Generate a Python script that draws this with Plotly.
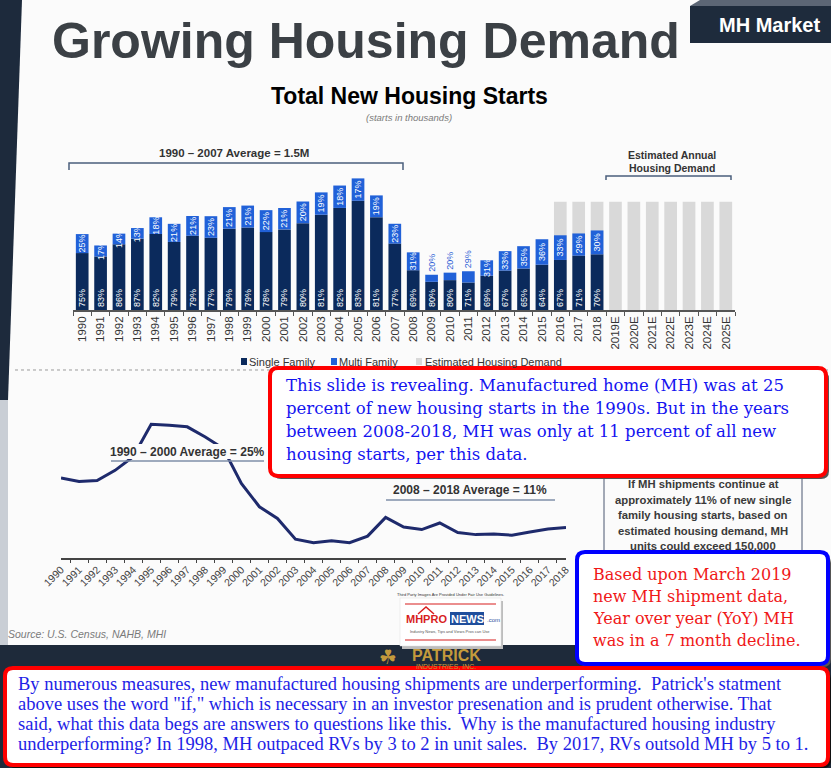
import plotly.graph_objects as go

W, H = 831, 768

# ---------------- data ----------------
years = [str(y) for y in range(1990, 2019)]
est_years = ["2019E", "2020E", "2021E", "2022E", "2023E", "2024E", "2025E"]
categories = years + est_years

total_starts = [1193, 1014, 1200, 1288, 1457, 1354, 1477, 1474, 1617, 1641, 1569, 1603,
                1705, 1848, 1956, 2068, 1801, 1355, 906, 554, 587, 609, 781, 925, 1003,
                1112, 1174, 1203, 1250]
sf_pct = [75, 83, 86, 87, 82, 79, 79, 77, 79, 79, 78, 79, 80, 81, 82, 83, 81, 77, 69, 80,
          80, 71, 69, 67, 65, 64, 67, 71, 70]
mf_pct = [25, 17, 14, 13, 18, 21, 21, 23, 21, 21, 22, 21, 20, 19, 18, 17, 19, 23, 31, 20,
          20, 29, 31, 33, 35, 36, 33, 29, 30]
demand_years = ["2016", "2017", "2018", "2019E", "2020E", "2021E", "2022E", "2023E", "2024E", "2025E"]
demand_values = [1700, 1700, 1700, 1700, 1700, 1700, 1700, 1700, 1700, 1700]

mh_share = [21.0, 20.3, 20.5, 22.5, 25.2, 31.6, 31.4, 31.1, 29.1, 26.8, 19.9, 15.3, 13.0,
            8.9, 8.2, 8.6, 8.2, 9.5, 13.2, 11.3, 10.8, 12.1, 10.2, 9.8, 9.9, 9.7, 10.3,
            10.9, 11.2]
outside_mf_years = ["2009", "2010", "2011"]

single = [t * p / 100 for t, p in zip(total_starts, sf_pct)]
multi = [t - s for t, s in zip(total_starts, single)]

# ---------------- helpers ----------------
def X(px):
    return px / W


def Y(py):
    return 1 - py / H


shapes = []
annotations = []


def rect(x0, y0, x1, y1, fill, line_color=None, lw=0, layer="above"):
    shapes.append(dict(type="rect", xref="paper", yref="paper",
                       x0=X(x0), x1=X(x1), y0=Y(y1), y1=Y(y0),
                       fillcolor=fill, line=dict(color=line_color or fill, width=lw),
                       layer=layer))


def path(points, color, width=1.5, fill=None, closed=False, dash="solid", layer="above"):
    d = "M " + " L ".join(f"{X(px):.5f},{Y(py):.5f}" for px, py in points)
    if closed:
        d += " Z"
    shapes.append(dict(type="path", xref="paper", yref="paper", path=d,
                       line=dict(color=color, width=width, dash=dash),
                       fillcolor=fill if fill else "rgba(0,0,0,0)", layer=layer))


def rrect(x0, y0, x1, y1, r, fill, border, bw, layer="above"):
    def p(a, b):
        return f"{X(a):.5f},{Y(b):.5f}"
    d = (f"M {p(x0 + r, y0)} L {p(x1 - r, y0)} Q {p(x1, y0)} {p(x1, y0 + r)} "
         f"L {p(x1, y1 - r)} Q {p(x1, y1)} {p(x1 - r, y1)} L {p(x0 + r, y1)} "
         f"Q {p(x0, y1)} {p(x0, y1 - r)} L {p(x0, y0 + r)} Q {p(x0, y0)} {p(x0 + r, y0)} Z")
    shapes.append(dict(type="path", xref="paper", yref="paper", path=d,
                       fillcolor=fill, line=dict(color=border, width=bw), layer=layer))


SANS = "Liberation Sans, Arial, sans-serif"
SERIF = "DejaVu Serif, serif"


def T(text, x, y, size, color="#333333", bold=False, italic=False, family=SANS,
      xanchor="center", yanchor="middle", angle=0):
    if bold:
        text = f"<b>{text}</b>"
    if italic:
        text = f"<i>{text}</i>"
    annotations.append(dict(text=text, x=X(x), y=Y(y), xref="paper", yref="paper",
                            showarrow=False, xanchor=xanchor, yanchor=yanchor,
                            textangle=angle, borderpad=0,
                            font=dict(size=size, color=color, family=family)))


# ---------------- figure ----------------
fig = go.Figure()

fig.add_trace(go.Bar(x=demand_years, y=demand_values, marker_color="#d9d9d9",
                     marker_line_width=0, xaxis="x", yaxis="y", hoverinfo="skip"))
fig.add_trace(go.Bar(x=years, y=single, marker_color="#0b2a5c", marker_line_width=0,
                     text=[f"{p}%" for p in sf_pct], textposition="inside",
                     insidetextanchor="start", textangle=-90,
                     insidetextfont=dict(color="white", size=9, family=SANS),
                     xaxis="x", yaxis="y"))
fig.add_trace(go.Bar(x=years, y=multi, base=single, marker_color="#2161d8",
                     marker_line_width=0,
                     text=[f"{p}%" for p in mf_pct],
                     textposition=["outside" if y in outside_mf_years else "inside" for y in years],
                     insidetextanchor="middle", textangle=-90,
                     insidetextfont=dict(color="white", size=9, family=SANS),
                     outsidetextfont=dict(color="#2f62d6", size=9, family=SANS),
                     cliponaxis=False, xaxis="x", yaxis="y"))
fig.add_trace(go.Scatter(x=years, y=mh_share, mode="lines",
                         line=dict(color="#1e2a6c", width=3), xaxis="x2", yaxis="y2"))

# ---------------- background shapes ----------------
rect(0, 0, 831, 768, "#fbfbfb", layer="below")
path([(0, 0), (22, 0), (8, 400), (0, 400)], "#1d2a3c", width=0, fill="#1d2a3c",
     closed=True, layer="below")
rect(0, 400, 8, 645, "#c9ced5", layer="below")
rect(0, 645, 831, 768, "#1e2a3a", layer="below")
# MH Market tab
path([(690, 6), (700, 0), (831, 0), (831, 6)], "#5c6675", width=0, fill="#5c6675",
     closed=True, layer="below")
rect(690, 6, 831, 43, "#1e2b3c", layer="below")

# brackets
path([(69, 170), (69, 163), (403, 163), (403, 170)], "#4b5f7c", width=1.5)
path([(606, 180), (606, 176), (731, 176), (731, 180)], "#4b5f7c", width=1.5)

# dotted separator
path([(15, 370), (830, 370)], "#9a9a9a", width=1, dash="dot", layer="below")

# legend squares
rect(241, 358, 247, 365, "#0b2a5c")
rect(331, 358, 337, 365, "#2161d8")
rect(416, 358, 422, 365, "#d9d9d9")

# average label background & underlines (line chart)
rect(110, 444, 265, 459, "#fbfbfb")
path([(111, 461), (264, 461)], "#7f8fa8", width=1.5)
path([(386, 500), (555, 500)], "#7f8fa8", width=1.5)

# info box outline
rect(604, 395, 802, 565, "rgba(0,0,0,0)", line_color="#4a5670", lw=1)

# MHProNews logo card
rect(402, 601, 503, 649, "#bdbdbd")
rect(400, 598, 501, 646, "#ffffff", line_color="#dddddd", lw=0.5)
path([(405, 604), (496, 604)], "#d81e1e", width=1.2)
path([(405, 640), (496, 640)], "#d81e1e", width=1.2)
path([(418, 614), (426, 607), (434, 614)], "#d81e1e", width=1.5)
rect(450, 612, 484, 625, "#1f4e9c")

# text boxes with shadows
rrect(273, 371, 829, 479, 8, "#555555", "#555555", 0)
rrect(270, 368, 826, 476, 8, "#ffffff", "#ff0000", 4)
rrect(580, 555, 831, 667, 8, "#555555", "#555555", 0)
rrect(577, 552, 828, 664, 8, "#ffffff", "#0000ff", 4)
rrect(8, 671, 831, 768, 8, "#111111", "#111111", 0)
rrect(5, 668, 828, 765, 8, "#ffffff", "#ff0000", 4)

# ---------------- texts ----------------
T("Growing Housing Demand", 366, 41, 50, color="#3b4045", bold=True)
T("MH Market", 718, 25, 20, color="#ffffff", bold=True, xanchor="left")
T("Total New Housing Starts", 409, 96, 23, color="#000000", bold=True)
T("(starts in thousands)", 409, 117, 9.5, color="#7a7a7a", italic=True)
T("1990 – 2007 Average = 1.5M", 234, 153, 11.5, color="#333333", bold=True)
T("Estimated Annual", 672, 155, 10.5, color="#333333", bold=True)
T("Housing Demand", 672, 168, 10.5, color="#333333", bold=True)

T("Single Family", 248, 362, 11, color="#333333", xanchor="left")
T("Multi Family", 338, 362, 11, color="#333333", xanchor="left")
T("Estimated Housing Demand", 424, 362, 11, color="#333333", xanchor="left")

T("1990 – 2000 Average = 25%", 187, 452, 12, color="#333333", bold=True)
T("2008 – 2018 Average = 11%", 470, 490, 12, color="#333333", bold=True)

info_lines = ["If MH shipments continue at", "approximately 11% of new single",
              "family housing starts, based on", "estimated housing demand, MH",
              "units could exceed 150,000"]
for i, ln in enumerate(info_lines):
    T(ln, 703, 484 + i * 15.5, 11.3, color="#3a3a3a", bold=True)

T("Source: U.S. Census, NAHB, MHI", 7, 634, 10.5, color="#7a7a7a", italic=True, xanchor="left")

# logo texts
T("Third Party Images Are Provided Under Fair Use Guidelines.", 450, 594, 4, color="#333333")
T("MHPRO", 448, 619, 11, color="#d81e1e", bold=True, xanchor="right")
T("NEWS", 467, 619, 11, color="#ffffff", bold=True)
T(".com", 486, 620, 6, color="#1f4e9c", xanchor="left")
T("Industry News, Tips and Views Pros can Use", 450, 631, 4, color="#555555")

# Patrick logo
T("☘", 388, 657, 20, color="#c49a3c", family="DejaVu Sans")
T("PATRICK", 446, 655, 16, color="#c49a3c", bold=True)
T("INDUSTRIES, INC.", 446, 666, 7, color="#c49a3c")
T("t", 818, 707, 16, color="#ffffff", bold=True, xanchor="left")

box1 = ["This slide is revealing. Manufactured home (MH) was at 25",
        "percent of new housing starts in the 1990s. But in the years",
        "between 2008-2018, MH was only at 11 percent of all new",
        "housing starts, per this data."]
for i, ln in enumerate(box1):
    T(ln, 285, 385 + i * 23, 16.5, color="#1414f0", family=SERIF, xanchor="left")

box2 = ["Based upon March 2019", "new MH shipment data,",
        "Year over year (YoY) MH", "was in a 7 month decline."]
for i, ln in enumerate(box2):
    T(ln, 592, 574 + i * 22, 16, color="#f01818", family=SERIF, xanchor="left")

box3 = ["By numerous measures, new manufactured housing shipments are underperforming.\u00a0 Patrick's statment",
        "above uses the word \"if,\" which is necessary in an investor presenation and is prudent otherwise. That",
        "said, what this data begs are answers to questions like this.\u00a0 Why is the manufactured housing industry",
        "underperforming? In 1998, MH outpaced RVs by 3 to 2 in unit sales.\u00a0 By 2017, RVs outsold MH by 5 to 1."]
for i, ln in enumerate(box3):
    T(ln, 17, 684 + i * 20, 18.5, color="#1e1ee6", family="Liberation Serif, serif", xanchor="left")

# ---------------- layout ----------------
fig.update_layout(
    width=W, height=H, autosize=False,
    margin=dict(l=0, r=0, t=0, b=0, pad=0, autoexpand=False),
    paper_bgcolor="#ffffff", plot_bgcolor="rgba(0,0,0,0)",
    barmode="overlay", bargap=0.31, showlegend=False,
    uniformtext=dict(minsize=9, mode="show"),
    xaxis=dict(domain=[X(73), X(735)], anchor="y", type="category", automargin=False,
               categoryorder="array", categoryarray=categories,
               tickangle=-90, tickfont=dict(size=11.5, color="#333333", family=SANS),
               showline=True, linecolor="#555555", linewidth=1.5,
               ticks="outside", ticklen=4, tickcolor="#555555", tickson="boundaries",
               showgrid=False, zeroline=False, fixedrange=True),
    yaxis=dict(domain=[Y(310), Y(170)], range=[0, 2200], visible=False, automargin=False,
               fixedrange=True),
    xaxis2=dict(domain=[X(61), X(566)], anchor="y2", type="category", automargin=False,
                categoryorder="array", categoryarray=years,
                tickangle=-45, tickfont=dict(size=10.5, color="#444444", family=SANS),
                showline=True, linecolor="#444444", linewidth=1.5,
                ticks="outside", ticklen=4, tickcolor="#444444", tickson="boundaries",
                showgrid=False, zeroline=False, fixedrange=True),
    yaxis2=dict(domain=[Y(557.7), Y(417.2)], range=[5.24, 33], visible=False,
                automargin=False, fixedrange=True),
    shapes=shapes, annotations=annotations,
)

fig.write_html("out.html")
